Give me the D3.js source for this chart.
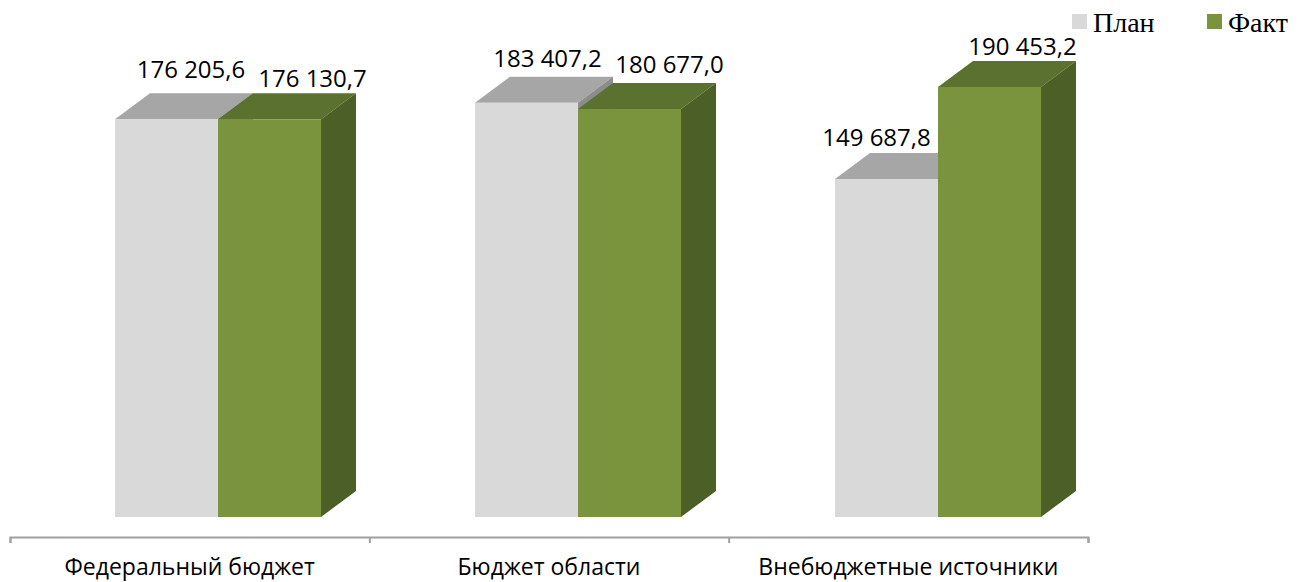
<!DOCTYPE html>
<html>
<head>
<meta charset="utf-8">
<script src="https://cdn.jsdelivr.net/npm/d3@7"></script>
<style>
  html, body { margin: 0; padding: 0; background: #fff; }
  svg { display: block; }
  .value, .category { font-family: "Open Sans", sans-serif; fill: #000; }
  .legend { font-family: "Liberation Serif", serif; fill: #000; }
</style>
</head>
<body>
<svg id="chart"></svg>
<script>
const categories = ["Федеральный бюджет", "Бюджет области", "Внебюджетные источники"];
const seriesNames = ["План", "Факт"];
const planValues = [176205.6, 183407.2, 149687.8];
const factValues = [176130.7, 180677.0, 190453.2];

// colours per series: front, top, side
const colors = [
  { front: "#d9d9d9", top: "#a6a6a6", side: "#8c8c8c" },
  { front: "#79943c", top: "#5b7130", side: "#4c5f27" }
];

const width = 1305;
const height = 582;
const depthX = 35;
const depthY = 26;

// the data labels were placed by hand in the original, offsets from the bar's top centre
const labelOffsets = [
  [[24.5, -41], [43, -32]],
  [[21, -36], [40, -36]],
  [[-10, -33], [33, -32]]
];

const svg = d3.select("#chart").attr("width", width).attr("height", height);

const x0 = d3.scaleBand().domain(categories).range([10, 1090]);
const x1 = d3.scaleBand().domain(seriesNames).range([105, 311]);
const y = d3.scaleLinear().domain([0, 200000]).range([517, 65.4]);

const fmt = d3.formatLocale({ decimal: ",", thousands: " ", grouping: [3], currency: ["", ""] }).format(",.1f");

const rows = [];
categories.forEach((c, i) => {
  rows.push({ cat: c, i: i, s: 0, value: planValues[i] });
  rows.push({ cat: c, i: i, s: 1, value: factValues[i] });
});

function poly(points) {
  return points.map(p => p.join(",")).join(" ");
}

const bars = svg.selectAll("g.bar").data(rows).enter().append("g").attr("class", "bar");

// top face
bars.append("polygon")
  .attr("fill", d => colors[d.s].top)
  .attr("points", d => {
    let l = x0(d.cat) + x1(seriesNames[d.s]);
    let r = l + x1.bandwidth();
    let t = y(d.value);
    return poly([[l, t], [r, t], [r + depthX, t - depthY], [l + depthX, t - depthY]]);
  });

// side face
bars.append("polygon")
  .attr("fill", d => colors[d.s].side)
  .attr("points", d => {
    let r = x0(d.cat) + x1(seriesNames[d.s]) + x1.bandwidth();
    let t = y(d.value);
    let b = y(0);
    return poly([[r, t], [r + depthX, t - depthY], [r + depthX, b - depthY], [r, b]]);
  });

// front face
bars.append("rect")
  .attr("fill", d => colors[d.s].front)
  .attr("x", d => x0(d.cat) + x1(seriesNames[d.s]))
  .attr("y", d => y(d.value))
  .attr("width", x1.bandwidth())
  .attr("height", d => y(0) - y(d.value));

// value labels go on after all the bars
svg.selectAll("text.value").data(rows).enter().append("text")
  .attr("class", "value")
  .attr("text-anchor", "middle")
  .attr("font-size", 24)
  .attr("x", d => x0(d.cat) + x1(seriesNames[d.s]) + x1.bandwidth() / 2 + labelOffsets[d.i][d.s][0])
  .attr("y", d => y(d.value) + labelOffsets[d.i][d.s][1])
  .text(d => fmt(d.value));

// category axis, ticks sit on the group boundaries
const axisScale = d3.scaleLinear().domain([0, categories.length]).range([10, 1088]);
const axis = svg.append("g")
  .attr("transform", "translate(0,537)")
  .call(d3.axisBottom(axisScale).tickValues(d3.range(categories.length + 1)).tickSize(6).tickFormat(""));
axis.selectAll("path, line").attr("stroke", "#a0a0a0").attr("stroke-width", 2);

svg.selectAll("text.category").data(categories).enter().append("text")
  .attr("class", "category")
  .attr("text-anchor", "middle")
  .attr("font-size", 23)
  .attr("x", (d, i) => axisScale(i + 0.5))
  .attr("y", 575)
  .text(d => d);

// legend
const legendX = [1072, 1207];
const legend = svg.selectAll("g.legend-item").data(seriesNames).enter().append("g")
  .attr("class", "legend-item")
  .attr("transform", (d, i) => "translate(" + legendX[i] + ",14)");
legend.append("rect")
  .attr("width", 15)
  .attr("height", 15)
  .attr("fill", (d, i) => colors[i].front);
legend.append("text")
  .attr("class", "legend")
  .attr("x", 21)
  .attr("y", 18)
  .attr("font-size", 28)
  .text(d => d);
</script>
</body>
</html>
